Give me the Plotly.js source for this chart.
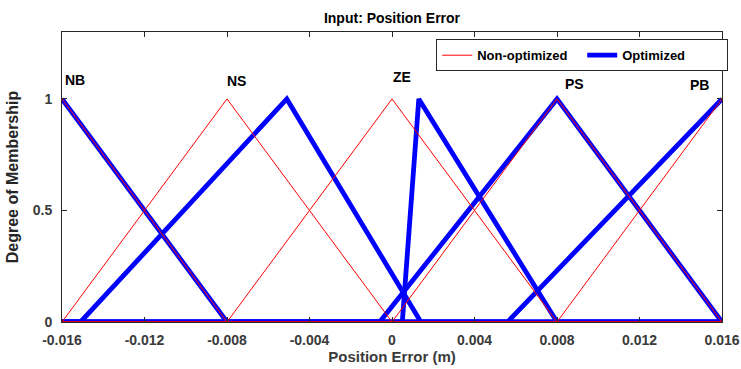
<!DOCTYPE html>
<html>
<head>
<meta charset="utf-8">
<script src="https://cdn.plot.ly/plotly-3.0.1.min.js"></script>
<style>html,body{margin:0;padding:0;background:#fff;}#chart{width:741px;height:369px;}</style>
</head>
<body>
<div id="chart"></div>
<script>
// Universe of discourse
const xMin = -0.016, xMax = 0.016;
// Membership function names
const mfNames = ["NB", "NS", "ZE", "PS", "PB"];
// Triangular MF parameters [a, b(peak), c] - non-optimized
const nonOptA = [-0.016, -0.016, -0.008, 0.000, 0.008];
const nonOptB = [-0.016, -0.008,  0.000, 0.008, 0.016];
const nonOptC = [-0.008,  0.000,  0.008, 0.016, 0.016];
// Optimized
const optA = [-0.016, -0.0151, 0.0005, -0.0006, 0.0056];
const optB = [-0.016, -0.0051, 0.0013,  0.0080, 0.016];
const optC = [-0.008,  0.0014, 0.0080,  0.0160, 0.016];
// Label positions (x, y) of MF names
const labelX = [-0.01535, -0.00756, 0.0005, 0.00887, 0.01493];
const labelY = [1.085, 1.08, 1.10, 1.067, 1.063];
// Axis ticks
const xTicks = [-0.016, -0.012, -0.008, -0.004, 0, 0.004, 0.008, 0.012, 0.016];
const xTickText = ["-0.016", "-0.012", "-0.008", "-0.004", "0", "0.004", "0.008", "0.012", "0.016"];
const yTicks = [0, 0.5, 1];
const yTickText = ["0", "0.5", "1"];

function mfTrace(a, b, c, color, width, name, show, rank) {
  const xs = [], ys = [];
  xs.push(xMin); ys.push(a === xMin && b === xMin ? 1 : 0);
  if (a > xMin) { xs.push(a); ys.push(0); }
  if (b > xMin && b < xMax) { xs.push(b); ys.push(1); }
  if (c < xMax) { xs.push(c); ys.push(0); }
  xs.push(xMax); ys.push(c === xMax && b === xMax ? 1 : 0);
  return {
    x: xs, y: ys, type: "scatter", mode: "lines", name: name,
    legendgroup: name, showlegend: show, legendrank: rank,
    cliponaxis: false,
    line: {color: color, width: width, shape: "linear"},
    hoverinfo: "skip"
  };
}

const traces = [];
for (let i = 0; i < mfNames.length; i++) {
  traces.push(mfTrace(optA[i], optB[i], optC[i], "#0000ff", 4.8, "Optimized", i === 0, 2));
}
for (let i = 0; i < mfNames.length; i++) {
  traces.push(mfTrace(nonOptA[i], nonOptB[i], nonOptC[i], "#ff0000", 1, "Non-optimized", i === 0, 1));
}

const FF = "Liberation Sans, Arial, sans-serif";
const annotations = mfNames.map((n, i) => ({
  x: labelX[i], y: labelY[i], xref: "x", yref: "y", text: n, showarrow: false,
  font: {family: FF, size: 14, color: "#000", weight: "bold"}
}));

const tickFont = {family: FF, size: 14, color: "#3a3a3a", weight: "bold"};
const layout = {
  width: 741, height: 369,
  margin: {l: 62, r: 19, t: 32, b: 47, autoexpand: false},
  paper_bgcolor: "#fff", plot_bgcolor: "#fff",
  title: {text: "Input: Position Error", x: 0.529, xanchor: "center", y: 0.951, yanchor: "middle", yref: "container",
          font: {family: FF, size: 14, color: "#000", weight: "bold"}},
  xaxis: {
    range: [xMin, xMax], tickvals: xTicks, ticktext: xTickText,
    ticks: "inside", ticklen: 5, tickcolor: "#262626", ticklabelstandoff: 5,
    showline: true, mirror: "ticks", linecolor: "#262626", linewidth: 1,
    showgrid: false, zeroline: false, tickfont: tickFont,
    title: {text: "Position Error (m)", standoff: 4, font: {family: FF, size: 15, color: "#3a3a3a", weight: "bold"}}
  },
  yaxis: {
    range: [0, 1.3], tickvals: yTicks, ticktext: yTickText,
    ticks: "inside", ticklen: 5, tickcolor: "#262626", ticklabelstandoff: 6,
    showline: true, mirror: "ticks", linecolor: "#262626", linewidth: 1,
    showgrid: false, zeroline: false, tickfont: tickFont,
    title: {text: "Degree of Membership", standoff: 10, font: {family: FF, size: 16, color: "#262626", weight: "bold"}}
  },
  legend: {
    orientation: "h", x: 0.567, y: 0.975, xanchor: "left", yanchor: "top",
    bordercolor: "#262626", borderwidth: 1, bgcolor: "#fff",
    font: {family: FF, size: 13, color: "#000", weight: "bold"},
    traceorder: "normal", itemwidth: 30, entrywidth: 100, tracegroupgap: 0
  },
  annotations: annotations,
  showlegend: true
};

Plotly.newPlot("chart", traces, layout, {displayModeBar: false, staticPlot: true});
</script>
</body>
</html>
